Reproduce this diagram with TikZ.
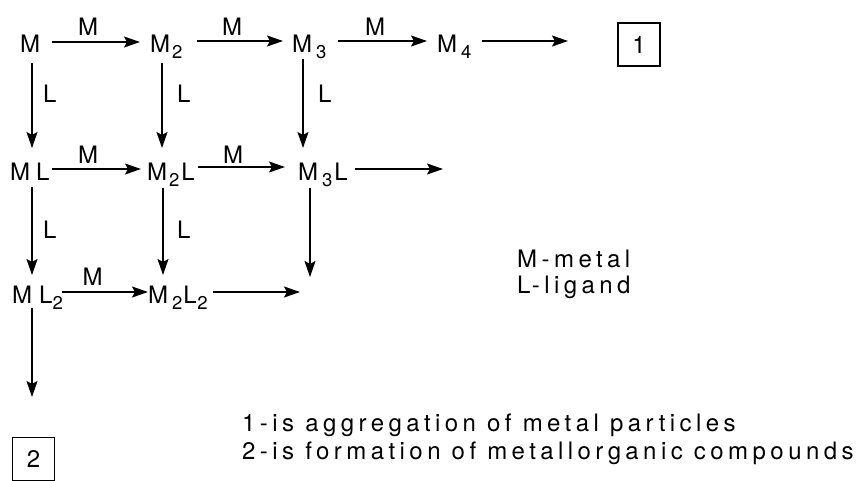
\documentclass[tikz,border=0pt]{standalone}
\usepackage{fontspec}
\setmainfont{TeX Gyre Heros}
\newfontfamily\legfont[LetterSpace=18.5]{TeX Gyre Heros}
\usetikzlibrary{arrows.meta,calc}
\newcommand\sbs[1]{\raisebox{-6pt}{\fontsize{18.5}{18.5}\selectfont #1}}
\begin{document}
\begin{tikzpicture}[x=1pt,y=-1pt,
  lbl/.style={inner sep=0pt, anchor=base west, font=\fontsize{24}{28}\selectfont},
  tag/.style={inner sep=0pt, anchor=base, font=\fontsize{24}{28}\selectfont},
  arr/.style={line width=1.5pt, -{Stealth[length=16pt,width=11pt,inset=3pt]}},
  numbox/.style={draw, line width=1.2pt, minimum width=42pt, minimum height=43pt, inner sep=0pt, font=\fontsize{24}{28}\selectfont},
  leg/.style={inner sep=0pt, anchor=base west, font=\legfont\fontsize{24}{28}\selectfont}]
\useasboundingbox (0,0) rectangle (859,480);

% species
\node[lbl] (m1) at (20,52) {M};
\node[lbl] (m2) at (150,52) {M\kern2pt\sbs{2}};
\node[lbl] (m3) at (292,52) {M\kern4pt\sbs{3}};
\node[lbl] (m4) at (437,52) {M\kern4pt\sbs{4}};
\node[lbl] (ml) at (10,180) {M\kern6pt L};
\node[lbl] (m2l) at (147,180) {M\kern2pt\sbs{2}\kern2pt L};
\node[lbl] (m3l) at (298,180) {M\kern4pt\sbs{3}\kern2pt L};
\node[lbl] (ml2) at (12,303) {M\kern7pt L\sbs{2}};
\node[lbl] (m2l2) at (148,303) {M\kern4pt\sbs{2}\kern1pt L\kern0.5pt\sbs{2}};

\node[numbox] (b1) at (639,44.5) {1};
\node[numbox] (b2) at (33.5,459) {2};

% free ends
\coordinate (e1) at (568,41);
\coordinate (e2) at (443,169);
\coordinate (e3) at (300,292);
\coordinate (e4) at (310,277);
\coordinate (e5) at (32,397);

% horizontal arrows
\draw[arr] ($(m1.base west)+(32,-10)$) -- ($(m2.base west)+(-10,-10)$);
\draw[arr] ($(m2.base west)+(47,-11)$) -- ($(m3.base west)+(-9,-11)$);
\draw[arr] ($(m3.base west)+(46,-11)$) -- ($(m4.base west)+(-10,-11)$);
\draw[arr] ($(m4.base west)+(45,-11)$) -- (e1);
\draw[arr] ($(ml.base west)+(42,-11)$) -- ($(m2l.base west)+(-6,-11)$);
\draw[arr] ($(m2l.base west)+(51,-13)$) -- ($(m3l.base west)+(-13,-13)$);
\draw[arr] ($(m3l.base west)+(57,-11)$) -- (e2);
\draw[arr] ($(ml2.base west)+(50,-11)$) -- ($(m2l2.base west)+(0,-11)$);
\draw[arr] ($(m2l2.base west)+(65,-11)$) -- (e3);

% vertical arrows
\draw[arr] ($(m1.base west)+(12,11)$) -- ($(ml.base west)+(22,-32)$);
\draw[arr] ($(m2.base west)+(12,11)$) -- ($(m2l.base west)+(15,-32)$);
\draw[arr] ($(m3.base west)+(11,7)$) -- ($(m3l.base west)+(5,-32)$);
\draw[arr] ($(ml.base west)+(22,7)$) -- ($(ml2.base west)+(20,-28)$);
\draw[arr] ($(m2l.base west)+(16,8)$) -- ($(m2l2.base west)+(15,-28)$);
\draw[arr] ($(m3l.base west)+(12,8)$) -- (e4);
\draw[arr] ($(ml2.base west)+(20,5)$) -- (e5);

% arrow labels
\node[tag] (t1) at (88,35) {M};
\node[tag] (t2) at (232,35) {M};
\node[tag] (t3) at (375,35) {M};
\node[tag] (t4) at (88,163) {M};
\node[tag] (t5) at (233,163) {M};
\node[tag] (t6) at (92.5,285) {M};
\node[lbl] (l1) at (43,102) {L};
\node[lbl] (l2) at (177,102) {L};
\node[lbl] (l3) at (318,102) {L};
\node[lbl] (l4) at (43,238) {L};
\node[lbl] (l5) at (177,238) {L};

% legend
\node[leg] (g1) at (517,267) {M-metal};
\node[leg] (g2) at (517,293) {L-ligand};
\node[leg] (g3) at (242,431) {1-is aggregation of metal particles};
\node[leg] (g4) at (242,459) {2-is formation of metallorganic compounds};
\end{tikzpicture}
\end{document}
